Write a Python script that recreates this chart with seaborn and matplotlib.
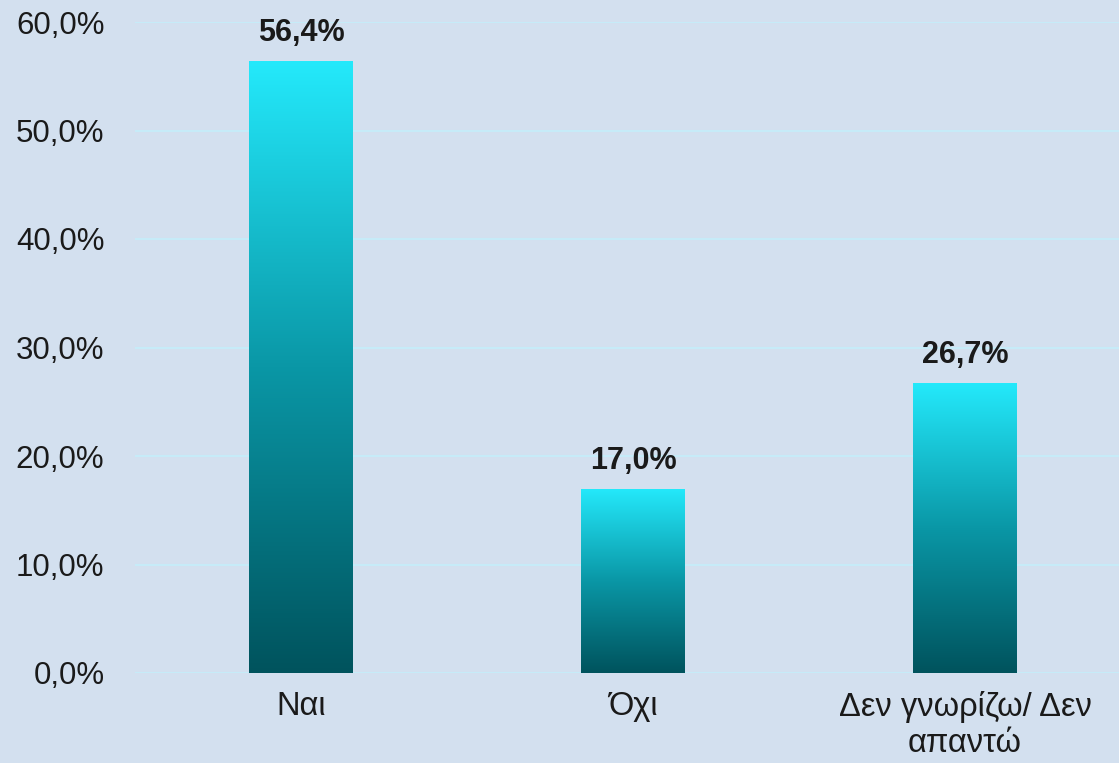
import numpy as np
import pandas as pd
import matplotlib
matplotlib.use('Agg')
import matplotlib.pyplot as plt
from matplotlib.colors import LinearSegmentedColormap
import seaborn as sns

# 데이터
categories = ['Ναι', 'Όχι', 'Δεν γνωρίζω/ Δεν\nαπαντώ']
values = [56.4, 17.0, 26.7]
yticks = [0, 10, 20, 30, 40, 50, 60]

df = pd.DataFrame({'cat': categories, 'val': values})

sns.set_style('white')
plt.rcParams['font.family'] = ['Liberation Sans', 'DejaVu Sans']

bg = '#D3E0EF'
fig = plt.figure(figsize=(11.19, 7.63), dpi=100, facecolor=bg)
ax = fig.add_axes([135 / 1119, 90 / 763, 996 / 1119, 651 / 763])
ax.set_facecolor(bg)

sns.barplot(data=df, x='cat', y='val', width=0.313, ax=ax, zorder=3)

ax.set_ylim(0, 60)
ax.set_yticks(yticks)
ax.set_yticklabels([f'{t:.1f}'.replace('.', ',') + '%' for t in yticks])
ax.yaxis.grid(True, color='#C6EBF8', linewidth=1.5, zorder=0)
ax.set_axisbelow(True)
sns.despine(ax=ax, left=True, bottom=True)
ax.tick_params(axis='both', length=0, colors='#1a1a1a')
ax.tick_params(axis='y', pad=22, labelsize=22.5)
ax.tick_params(axis='x', pad=13, labelsize=23.5)
ax.set_xlabel('')
ax.set_ylabel('')

# 그라데이션 막대
cmap = LinearSegmentedColormap.from_list('g', ['#00535D', '#0A97A6', '#24E9FB'])
grad = np.linspace(0, 1, 256).reshape(-1, 1)
for p, v in zip(ax.patches, values):
    x0 = p.get_x()
    w = p.get_width()
    h = p.get_height()
    p.set_facecolor('none')
    p.set_edgecolor('none')
    im = ax.imshow(grad, cmap=cmap, origin='lower', aspect='auto',
                   extent=[x0, x0 + w, 0, h], zorder=3)
    im.set_clip_path(p)
    ax.text(x0 + w / 2, h + 1.2, f'{v:.1f}'.replace('.', ',') + '%',
            ha='center', va='bottom', fontsize=22, fontweight='bold',
            color='#1a1a1a', zorder=4)

ax.set_xlim(-0.5, 2.5)
ax.set_ylim(0, 60)

plt.savefig('out.png', dpi=100, facecolor=bg)
